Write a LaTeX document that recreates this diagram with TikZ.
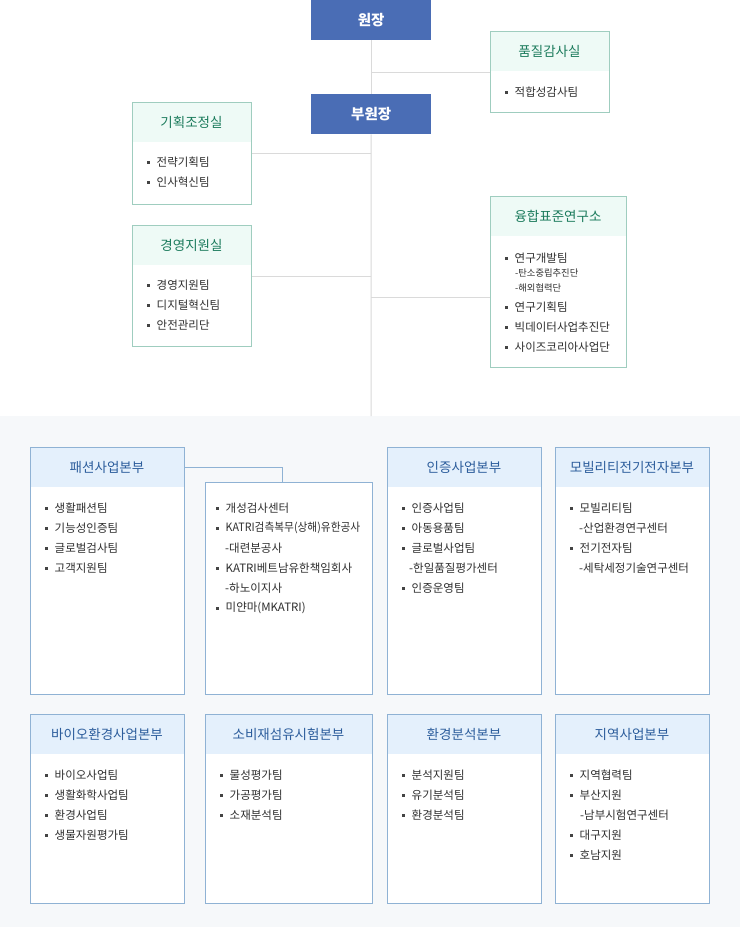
\documentclass[tikz,border=0pt]{standalone}
\usepackage{fontspec}
\setmainfont{Noto Sans CJK KR}
\usetikzlibrary{fit}
\definecolor{chiefblue}{HTML}{4A6DB5}
\definecolor{mintborder}{HTML}{9FCDBF}
\definecolor{mintfill}{HTML}{EEFAF6}
\definecolor{minttext}{HTML}{1B7B5C}
\definecolor{lineg}{HTML}{DADADA}
\definecolor{blueborder}{HTML}{8FB2D4}
\definecolor{bluefill}{HTML}{E4F0FC}
\definecolor{bluetext}{HTML}{2C5D9C}
\definecolor{bggrey}{HTML}{F6F8FA}
\definecolor{itemtext}{HTML}{2E2E2E}
\definecolor{bulc}{HTML}{444444}
\newcounter{itc}
\tikzset{
  chiefbox/.style={fill=chiefblue, text=white, font=\fontsize{14.5}{16}\selectfont\bfseries,
    minimum width=120, minimum height=40, inner sep=0, anchor=north west},
  itemtx/.style={anchor=west, inner sep=0, text=itemtext, font=\fontsize{11.5}{13}\selectfont},
  smalltx/.style={anchor=west, inner sep=0, text=itemtext, font=\fontsize{9.3}{11}\selectfont},
  titletx/.style={inner sep=0, font=\fontsize{13.5}{15}\selectfont},
  conn/.style={draw=lineg, line width=1pt},
  bconn/.style={draw=blueborder, line width=1pt},
}
% #1 name, #2 x1, #3 y1, #4 x2, #5 y2, #6 title, #7 kind
\newcommand\orgbox[7]{%
  \fill[white] (#2,#3) rectangle (#4,#5);
  \coordinate (#1-nw) at (#2,#3);
  \coordinate (#1-se) at (#4,#5);
  \coordinate (#1-hse) at (#4,#3+40);
  \node[fill=#7fill, fit=(#1-nw)(#1-hse), inner sep=0] (#1-h) {};
  \node[draw=#7border, line width=1pt, fit=(#1-nw)(#1-se), inner sep=0] (#1) {};
  \node[titletx, text=#7text] (#1-t) at ({(#2+#4)/2},{#3+20}) {#6};
}
\newcommand\plainbox[5]{%
  \fill[white] (#2,#3) rectangle (#4,#5);
  \coordinate (#1-nw) at (#2,#3);
  \coordinate (#1-se) at (#4,#5);
  \node[draw=blueborder, line width=1pt, fit=(#1-nw)(#1-se), inner sep=0] (#1) {};
}
\newcommand\bul[3]{%
  \stepcounter{itc}%
  \fill[bulc] (#1-1.5,#2-1.5) rectangle (#1+1.5,#2+1.5);
  \node[itemtx] (it\arabic{itc}) at (#1+8.5,#2) {#3};
}
\newcommand\subi[3]{%
  \stepcounter{itc}%
  \node[itemtx] (it\arabic{itc}) at (#1,#2) {#3};
}
\newcommand\smalli[3]{%
  \stepcounter{itc}%
  \node[smalltx] (it\arabic{itc}) at (#1,#2) {#3};
}
\begin{document}
\begin{tikzpicture}[x=1pt,y=-1pt]
\useasboundingbox (0,0) rectangle (740,927);
\fill[white] (0,0) rectangle (740,416);
\fill[bggrey] (0,416) rectangle (740,927);

% chiefs
\node[chiefbox] (chief) at (311,0) {원장};
\node[chiefbox] (vice) at (311,94) {부원장};
\coordinate (vend) at (371,416);
\coordinate (j1) at (371,72);
\coordinate (j2) at (371,153);
\coordinate (j3) at (371,276);
\coordinate (j4) at (371,297);

% top boxes
\orgbox{qa}{490}{31}{609}{112}{품질감사실}{mint}
\orgbox{plan}{132}{102}{251}{204}{기획조정실}{mint}
\orgbox{mgmt}{132}{225}{251}{346}{경영지원실}{mint}
\orgbox{conv}{490}{196}{626}{367}{융합표준연구소}{mint}

\draw[conn] (chief.south) -- (vice.north);
\draw[conn] (vice.south) -- (vend);
\draw[conn] (j1) -- (qa.west |- j1);
\draw[conn] (j2) -- (plan.east |- j2);
\draw[conn] (j3) -- (mgmt.east |- j3);
\draw[conn] (j4) -- (conv.west |- j4);

\bul{506}{92}{적합성감사팀}
\bul{148}{162}{전략기획팀}
\bul{148}{182}{인사혁신팀}
\bul{148}{285}{경영지원팀}
\bul{148}{305}{디지털혁신팀}
\bul{148}{325}{안전관리단}
\bul{506}{258}{연구개발팀}
\smalli{515}{273}{-탄소중립추진단}
\smalli{515}{288}{-해외협력단}
\bul{506}{307}{연구기획팀}
\bul{506}{327}{빅데이터사업추진단}
\bul{506}{347}{사이즈코리아사업단}

% bottom row 1
\orgbox{fash}{30}{447}{184}{694}{패션사업본부}{blue}
\plainbox{subs}{205}{482}{372}{694}
\orgbox{cert}{387}{447}{541}{694}{인증사업본부}{blue}
\orgbox{mob}{555}{447}{709}{694}{모빌리티전기전자본부}{blue}
\coordinate (k1) at (282,467);
\draw[bconn] (fash-h.east) -- (k1) -- (k1 |- subs.north);

\bul{46}{508}{생활패션팀}
\bul{46}{528}{기능성인증팀}
\bul{46}{548}{글로벌검사팀}
\bul{46}{568}{고객지원팀}

\bul{217}{508}{개성검사센터}
\bul{217}{528}{\scalebox{0.93}[1]{KATRI검측복무(상해)유한공사}}
\subi{225}{548}{-대련분공사}
\bul{217}{568}{KATRI베트남유한책임회사}
\subi{225}{588}{-하노이지사}
\bul{217}{608}{미얀마(MKATRI)}

\bul{403}{508}{인증사업팀}
\bul{403}{528}{아동용품팀}
\bul{403}{548}{글로벌사업팀}
\subi{409}{568}{-한일품질평가센터}
\bul{403}{588}{인증운영팀}

\bul{571}{508}{모빌리티팀}
\subi{579}{528}{-산업환경연구센터}
\bul{571}{548}{전기전자팀}
\subi{579}{568}{-세탁세정기술연구센터}

% bottom row 2
\orgbox{bio}{30}{714}{184}{903}{바이오환경사업본부}{blue}
\orgbox{cons}{205}{714}{372}{903}{소비재섬유시험본부}{blue}
\orgbox{env}{387}{714}{541}{903}{환경분석본부}{blue}
\orgbox{reg}{555}{714}{709}{903}{지역사업본부}{blue}

\bul{46}{775}{바이오사업팀}
\bul{46}{795}{생활화학사업팀}
\bul{46}{815}{환경사업팀}
\bul{46}{835}{생물자원평가팀}

\bul{221}{775}{물성평가팀}
\bul{221}{795}{가공평가팀}
\bul{221}{815}{소재분석팀}

\bul{403}{775}{분석지원팀}
\bul{403}{795}{유기분석팀}
\bul{403}{815}{환경분석팀}

\bul{571}{775}{지역협력팀}
\bul{571}{795}{부산지원}
\subi{580}{815}{-남부시험연구센터}
\bul{571}{835}{대구지원}
\bul{571}{855}{호남지원}
\end{tikzpicture}
\end{document}
